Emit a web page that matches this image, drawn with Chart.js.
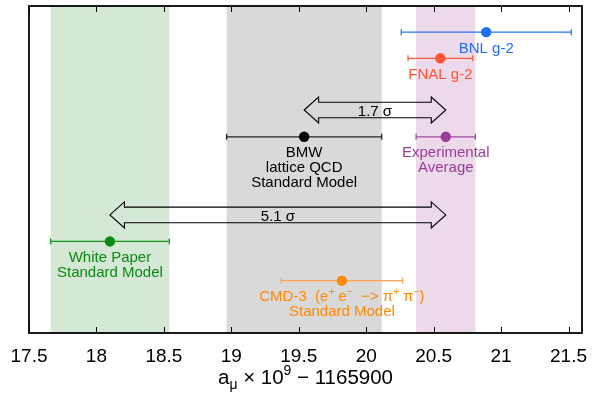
<!DOCTYPE html>
<html>
<head>
<meta charset="utf-8">
<script src="https://cdn.jsdelivr.net/npm/chart.js@4/dist/chart.umd.min.js"></script>
<style>
  html, body { margin: 0; padding: 0; background: #fff; }
  #wrap { width: 592px; height: 401px; position: relative; }
</style>
</head>
<body>
<div id="wrap"><canvas id="c"></canvas></div>
<script>
// Muon g-2 determinations: central value and 1-sigma uncertainty of a_mu x 1e9 - 1165900
const names   = ['BNL g-2', 'FNAL g-2', 'Experimental Average', 'BMW', 'White Paper', 'CMD-3'];
const centers = [20.89, 20.55, 20.59, 19.54, 18.10, 19.82];
const errors  = [0.63, 0.24, 0.22, 0.575, 0.44, 0.45];
// vertical row of each entry (hidden axis, 0 = bottom, 10 = top)
const rows    = [9.2, 8.4, 6.0, 6.0, 2.8, 1.6];
const labelLines = [
  ['BNL g-2'],
  ['FNAL g-2'],
  ['Experimental', 'Average'],
  ['BMW', 'lattice QCD', 'Standard Model'],
  ['White Paper', 'Standard Model'],
  ['CMD-3  (e^{+} e^{\u2212}  \u2212> \u03c0^{+} \u03c0^{\u2212})', 'Standard Model']
];
const markColors = ['#1f6ff2', '#ff5534', '#9b3c98', '#000000', '#0b8a12', '#ff8a00'];
const barColors  = ['#2a74f0', '#ff5a3a', '#a24aa0', '#222222', '#1a961e', '#ffa44a'];

// entries whose uncertainty is shown as a shaded vertical band
const bandEntries = [4, 3, 2];
const bandColors  = ['#d4e8d5', '#d9d9d9', '#ecd9ea'];

// tension arrows between two entries
const tensionFrom   = [3, 4];
const tensionTo     = [2, 2];
const tensionRows   = [6.82, 3.61];
const tensionLabels = ['1.7 \u03c3', '5.1 \u03c3'];

const tickValues = [17.5, 18, 18.5, 19, 19.5, 20, 20.5, 21, 21.5];
const tickLabels = ['17.5', '18', '18.5', '19', '19.5', '20', '20.5', '21', '21.5'];
const axisTitle  = 'a_{\u03bc} \u00d7 10^{9} \u2212 1165900';

const FONT = '"Liberation Sans", Arial, Helvetica, sans-serif';

function parseRich(s) {
  const out = [];
  const re = /([\^_])\{([^}]*)\}/g;
  let last = 0, m;
  while ((m = re.exec(s))) {
    if (m.index > last) out.push({ t: s.slice(last, m.index), k: 0 });
    out.push({ t: m[2], k: m[1] === '^' ? 1 : -1 });
    last = re.lastIndex;
  }
  if (last < s.length) out.push({ t: s.slice(last), k: 0 });
  return out;
}

function drawRich(ctx, s, cx, base, size, color) {
  const parts = parseRich(s);
  let w = 0;
  parts.forEach(p => {
    p.size = p.k ? size * 0.68 : size;
    ctx.font = p.size + 'px ' + FONT;
    p.w = ctx.measureText(p.t).width;
    w += p.w;
  });
  let x = cx - w / 2;
  ctx.fillStyle = color;
  ctx.textAlign = 'left';
  ctx.textBaseline = 'alphabetic';
  parts.forEach(p => {
    ctx.font = p.size + 'px ' + FONT;
    const dy = p.k === 1 ? -size * 0.42 : (p.k === -1 ? size * 0.25 : 0);
    ctx.fillText(p.t, x, base + dy);
    x += p.w;
  });
}

// datasets: an error bar (with end caps) and a filled marker for each entry
const datasets = [];
names.forEach((n, i) => {
  datasets.push({
    label: n + ' error',
    data: [{ x: centers[i] - errors[i], y: rows[i] }, { x: centers[i] + errors[i], y: rows[i] }],
    showLine: true,
    borderColor: barColors[i],
    borderWidth: 1.3,
    pointStyle: 'line',
    rotation: 90,
    pointRadius: 3,
    pointBorderColor: barColors[i],
    pointBorderWidth: 1.3,
    order: 2
  });
});
names.forEach((n, i) => {
  datasets.push({
    label: n,
    data: [{ x: centers[i], y: rows[i] }],
    pointRadius: 5.2,
    pointBackgroundColor: markColors[i],
    pointBorderWidth: 0,
    order: 1
  });
});

const bandsPlugin = {
  id: 'bands',
  beforeDatasetsDraw(chart) {
    const { ctx, chartArea: a, scales: { x } } = chart;
    ctx.save();
    bandEntries.forEach((e, k) => {
      const x0 = x.getPixelForValue(centers[e] - errors[e]);
      const x1 = x.getPixelForValue(centers[e] + errors[e]);
      ctx.fillStyle = bandColors[k];
      ctx.fillRect(x0, a.top, x1 - x0, a.bottom - a.top);
    });
    ctx.restore();
  }
};

const annotatePlugin = {
  id: 'annotate',
  afterDatasetsDraw(chart) {
    const { ctx, chartArea: a, scales: { x, y } } = chart;
    ctx.save();

    // tension arrows (outlined double arrows)
    tensionFrom.forEach((f, k) => {
      const xl = x.getPixelForValue(Math.min(centers[f], centers[tensionTo[k]]));
      const xr = x.getPixelForValue(Math.max(centers[f], centers[tensionTo[k]]));
      const yc = y.getPixelForValue(tensionRows[k]);
      const sh = 7.8, hh = 13, hl = 14.5;
      ctx.beginPath();
      ctx.moveTo(xl, yc);
      ctx.lineTo(xl + hl, yc - hh);
      ctx.lineTo(xl + hl, yc - sh);
      ctx.lineTo(xr - hl, yc - sh);
      ctx.lineTo(xr - hl, yc - hh);
      ctx.lineTo(xr, yc);
      ctx.lineTo(xr - hl, yc + hh);
      ctx.lineTo(xr - hl, yc + sh);
      ctx.lineTo(xl + hl, yc + sh);
      ctx.lineTo(xl + hl, yc + hh);
      ctx.closePath();
      ctx.strokeStyle = '#000';
      ctx.lineWidth = 1.1;
      ctx.lineJoin = 'miter';
      ctx.stroke();
      drawRich(ctx, tensionLabels[k], (xl + xr) / 2, yc + 6.5, 15, '#000');
    });

    // entry labels below each marker
    names.forEach((n, i) => {
      const cx = x.getPixelForValue(centers[i]);
      const cy = y.getPixelForValue(rows[i]);
      labelLines[i].forEach((line, j) => {
        drawRich(ctx, line, cx, cy + 20.5 + j * 15, 15, markColors[i]);
      });
    });

    // frame
    ctx.strokeStyle = '#000';
    ctx.lineWidth = 1.8;
    ctx.strokeRect(a.left, a.top, a.right - a.left, a.bottom - a.top);

    // inward tick marks on bottom and top edges
    ctx.lineWidth = 1;
    x.ticks.forEach(t => {
      const px = Math.round(x.getPixelForValue(t.value)) + 0.5;
      ctx.beginPath();
      ctx.moveTo(px, a.bottom);
      ctx.lineTo(px, a.bottom - 6);
      ctx.moveTo(px, a.top);
      ctx.lineTo(px, a.top + 6);
      ctx.stroke();
    });

    // axis title
    drawRich(ctx, axisTitle, (a.left + a.right) / 2, 383.5, 20.5, '#000');
    ctx.restore();
  }
};

new Chart(document.getElementById('c'), {
  type: 'scatter',
  data: { datasets },
  options: {
    responsive: true,
    maintainAspectRatio: false,
    animation: false,
    events: [],
    layout: { padding: { left: 29, right: 10, top: 6, bottom: 0 } },
    plugins: { legend: { display: false }, tooltip: { enabled: false } },
    scales: {
      x: {
        type: 'linear',
        min: 17.5,
        max: 21.6,
        grid: { display: false },
        border: { display: false },
        afterBuildTicks(scale) { scale.ticks = tickValues.map(v => ({ value: v })); },
        afterFit(scale) { scale.height = 68; },
        ticks: {
          color: '#000',
          font: { size: 19, family: FONT },
          padding: 4,
          maxRotation: 0,
          autoSkip: false,
          callback(v, i) { return tickLabels[i]; }
        }
      },
      y: { display: false, min: 0, max: 10 }
    }
  },
  plugins: [bandsPlugin, annotatePlugin]
});
</script>
</body>
</html>
